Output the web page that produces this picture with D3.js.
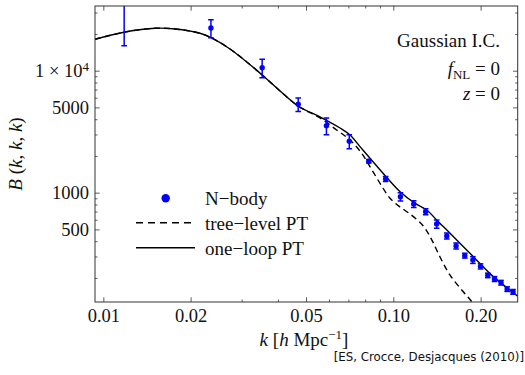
<!DOCTYPE html>
<html>
<head>
<meta charset="utf-8">
<script src="https://cdn.jsdelivr.net/npm/d3@7"></script>
<style>
  html, body { margin: 0; padding: 0; background: #fff; }
  svg { display: block; }
  text { font-family: "Liberation Serif", "Times New Roman", serif; fill: #111; }
</style>
</head>
<body>
<div id="root"></div>
<script>
"use strict";

// N-body measurements, B(k,k,k) with 1-sigma errors
const nbodyK = [0.0118, 0.0235, 0.0353, 0.0470, 0.0588, 0.0705, 0.0823, 0.0941, 0.1058, 0.1176, 0.1293,
  0.1411, 0.1529, 0.1646, 0.1764, 0.1881, 0.1999, 0.2117, 0.2234, 0.2352, 0.2469, 0.2587];
const nbodyB = [36000, 22390, 10580, 5300, 3540, 2640, 1810, 1295, 927, 808, 699,
  554, 442, 366, 305, 281, 249, 210, 196, 183, 162, 154];
const nbodyErr = [20000, 3800, 1820, 680, 550, 350, 60, 60, 72, 52, 40,
  43, 25, 20, 14, 18, 12, 9, 9, 8, 7, 7];

// one-loop PT curve
const oneLoopK = [0.00936, 0.01188, 0.01508, 0.01767, 0.02155, 0.02351, 0.02735, 0.03499, 0.04068, 0.04692,
  0.05588, 0.06549, 0.07091, 0.07679, 0.0831, 0.0944, 0.1055, 0.1188, 0.1304, 0.1429, 0.1569, 0.1888, 0.2213, 0.2685];
const oneLoopB = [18090, 20750, 22260, 21970, 20260, 18640, 15060, 9397, 6818, 5136,
  4173, 3391, 2972, 2383, 1914, 1352, 1019, 819, 721, 578, 465, 299, 205, 142];

// tree-level PT curve
const treeK = [0.00936, 0.01188, 0.01508, 0.01767, 0.02155, 0.02351, 0.02735, 0.03499, 0.04068, 0.04692,
  0.05588, 0.06379, 0.07091, 0.0778, 0.0831, 0.09, 0.0974, 0.1055, 0.1142, 0.1269, 0.1357, 0.1449,
  0.1569, 0.1743, 0.1864, 0.1991];
const treeB = [18090, 20750, 22260, 21970, 20260, 18640, 15060, 9397, 6818, 5136,
  4095, 3266, 2704, 2103, 1634, 1194, 900, 763, 669, 533, 410, 297,
  211, 154, 128, 105];

const xTicks = [0.01, 0.02, 0.05, 0.1, 0.2];
const xTickLabels = ["0.01", "0.02", "0.05", "0.10", "0.20"];
const xMinorTicks = [0.03, 0.04, 0.06, 0.07, 0.08, 0.09];
const yTicks = [500, 1000, 5000, 10000];
const yTickLabels = ["500", "1000", "5000", "1 × 10^4"];
const yMinorTicks = [200, 300, 400, 600, 700, 800, 900, 2000, 3000, 4000, 6000, 7000, 8000, 9000, 20000, 30000];

const legendLabels = ["N\u2212body", "tree\u2212level PT", "one\u2212loop PT"];

const width = 525;
const height = 375;
const plot = { left: 95, right: 517.7, top: 6, bottom: 302 };
const blue = "#0000ff";
const frameColor = "#333";

const x = d3.scaleLog().domain([0.00936, 0.2685]).range([plot.left, plot.right]);
const y = d3.scaleLog().domain([127, 33900]).range([plot.bottom, plot.top]);

const svg = d3.select("#root")
  .append("svg")
  .attr("width", width)
  .attr("height", height);

svg.append("defs")
  .append("clipPath")
  .attr("id", "clip")
  .append("rect")
  .attr("x", plot.left)
  .attr("y", plot.top)
  .attr("width", plot.right - plot.left)
  .attr("height", plot.bottom - plot.top);

// axes: major + minor ticks, pointing inward on all four sides
function styleAxis(g) {
  g.select(".domain").remove();
  g.selectAll(".tick line").attr("stroke", frameColor).attr("stroke-width", 0.8);
  g.selectAll(".tick text").attr("fill", "#111").style("font-size", "18.5px")
    .style("font-family", "'Liberation Serif', serif");
}

const labelX = (d) => xTickLabels[xTicks.indexOf(d)];
const labelY = (d) => yTickLabels[yTicks.indexOf(d)];

svg.append("g")
  .attr("transform", `translate(0,${plot.bottom})`)
  .call(d3.axisBottom(x).tickValues(xTicks).tickFormat(labelX).tickSizeInner(-4.7).tickSizeOuter(0).tickPadding(7))
  .call(styleAxis);
svg.append("g")
  .attr("transform", `translate(0,${plot.bottom})`)
  .call(d3.axisBottom(x).tickValues(xMinorTicks).tickFormat("").tickSizeInner(-2.5).tickSizeOuter(0))
  .call(styleAxis);
svg.append("g")
  .attr("transform", `translate(0,${plot.top})`)
  .call(d3.axisTop(x).tickValues(xTicks).tickFormat("").tickSizeInner(-4.7).tickSizeOuter(0))
  .call(styleAxis);
svg.append("g")
  .attr("transform", `translate(0,${plot.top})`)
  .call(d3.axisTop(x).tickValues(xMinorTicks).tickFormat("").tickSizeInner(-2.5).tickSizeOuter(0))
  .call(styleAxis);

const yAxis = svg.append("g")
  .attr("transform", `translate(${plot.left},0)`)
  .call(d3.axisLeft(y).tickValues(yTicks).tickFormat(labelY).tickSizeInner(-4.7).tickSizeOuter(0).tickPadding(6))
  .call(styleAxis);
svg.append("g")
  .attr("transform", `translate(${plot.left},0)`)
  .call(d3.axisLeft(y).tickValues(yMinorTicks).tickFormat("").tickSizeInner(-2.5).tickSizeOuter(0))
  .call(styleAxis);
svg.append("g")
  .attr("transform", `translate(${plot.right},0)`)
  .call(d3.axisRight(y).tickValues(yTicks).tickFormat("").tickSizeInner(-4.7).tickSizeOuter(0))
  .call(styleAxis);
svg.append("g")
  .attr("transform", `translate(${plot.right},0)`)
  .call(d3.axisRight(y).tickValues(yMinorTicks).tickFormat("").tickSizeInner(-2.5).tickSizeOuter(0))
  .call(styleAxis);

// turn "1 × 10^4" into a real superscript
yAxis.selectAll(".tick text")
  .filter(function () { return this.textContent.includes("^"); })
  .each(function () {
    const [base, exp] = this.textContent.split("^");
    const t = d3.select(this).text("");
    t.append("tspan").text(base);
    t.append("tspan").attr("dy", "-0.45em").style("font-size", "13px").text(exp);
  });

// curves
const line = d3.line()
  .x((d) => x(d[0]))
  .y((d) => y(d[1]))
  .curve(d3.curveCatmullRom.alpha(0.5));

const plotArea = svg.append("g").attr("clip-path", "url(#clip)");

plotArea.append("path")
  .datum(treeK.map((k, i) => [k, treeB[i]]))
  .attr("d", line)
  .attr("fill", "none")
  .attr("stroke", "#000")
  .attr("stroke-width", 1.4)
  .attr("stroke-dasharray", "6,4");

plotArea.append("path")
  .datum(oneLoopK.map((k, i) => [k, oneLoopB[i]]))
  .attr("d", line)
  .attr("fill", "none")
  .attr("stroke", "#000")
  .attr("stroke-width", 1.4);

// N-body points with error bars
const nbody = nbodyK.map((k, i) => ({ k, b: nbodyB[i], e: nbodyErr[i] }));
const cap = 2.8;

const pts = plotArea.selectAll(".nbody")
  .data(nbody)
  .enter()
  .append("g")
  .attr("class", "nbody");

pts.append("line")
  .attr("x1", (d) => x(d.k)).attr("x2", (d) => x(d.k))
  .attr("y1", (d) => y(d.b + d.e)).attr("y2", (d) => y(Math.max(d.b - d.e, 1)))
  .attr("stroke", blue).attr("stroke-width", 1.5);
pts.append("line")
  .attr("x1", (d) => x(d.k) - cap).attr("x2", (d) => x(d.k) + cap)
  .attr("y1", (d) => y(d.b + d.e)).attr("y2", (d) => y(d.b + d.e))
  .attr("stroke", blue).attr("stroke-width", 1.5);
pts.append("line")
  .attr("x1", (d) => x(d.k) - cap).attr("x2", (d) => x(d.k) + cap)
  .attr("y1", (d) => y(d.b - d.e)).attr("y2", (d) => y(d.b - d.e))
  .attr("stroke", blue).attr("stroke-width", 1.5);
pts.append("circle")
  .attr("cx", (d) => x(d.k))
  .attr("cy", (d) => y(d.b))
  .attr("r", 2.7)
  .attr("fill", blue);

// frame
svg.append("rect")
  .attr("x", plot.left)
  .attr("y", plot.top)
  .attr("width", plot.right - plot.left)
  .attr("height", plot.bottom - plot.top)
  .attr("fill", "none")
  .attr("stroke", frameColor)
  .attr("stroke-width", 1);

// legend
const legend = svg.append("g").style("font-size", "19px");
legend.append("circle").attr("cx", 165.7).attr("cy", 198.3).attr("r", 4.2).attr("fill", blue);
legend.append("line").attr("x1", 136).attr("x2", 195).attr("y1", 222.7).attr("y2", 222.7)
  .attr("stroke", "#000").attr("stroke-width", 1.4).attr("stroke-dasharray", "7,5");
legend.append("line").attr("x1", 136).attr("x2", 195).attr("y1", 247.7).attr("y2", 247.7)
  .attr("stroke", "#000").attr("stroke-width", 1.4);
legend.selectAll(".lbl")
  .data(legendLabels)
  .enter()
  .append("text")
  .attr("class", "lbl")
  .attr("x", 205)
  .attr("y", (d, i) => 205 + i * 25)
  .text((d) => d);

// annotation, top right
const note = svg.append("g").style("font-size", "19px").attr("text-anchor", "end");
note.append("text").attr("x", 500).attr("y", 47).text("Gaussian I.C.");
const fnl = note.append("text").attr("x", 500).attr("y", 75);
fnl.append("tspan").style("font-style", "italic").text("f");
fnl.append("tspan").attr("dy", 4).style("font-size", "13px").text("NL");
fnl.append("tspan").attr("dy", -4).text(" = 0");
const zt = note.append("text").attr("x", 500).attr("y", 100);
zt.append("tspan").style("font-style", "italic").text("z");
zt.append("tspan").text(" = 0");

// axis titles
const yTitle = svg.append("text")
  .attr("transform", `translate(22,${(plot.top + plot.bottom) / 2}) rotate(-90)`)
  .attr("text-anchor", "middle")
  .style("font-size", "19px");
[["B", true], [" (", false], ["k", true], [", ", false], ["k", true], [", ", false], ["k", true], [")", false]]
  .forEach(([s, it]) => yTitle.append("tspan").style("font-style", it ? "italic" : "normal").text(s));

const xTitle = svg.append("text")
  .attr("x", 304)
  .attr("y", 346)
  .attr("text-anchor", "middle")
  .style("font-size", "19px");
xTitle.append("tspan").style("font-style", "italic").text("k");
xTitle.append("tspan").text(" [");
xTitle.append("tspan").style("font-style", "italic").text("h");
xTitle.append("tspan").text(" Mpc");
xTitle.append("tspan").attr("dy", -7).style("font-size", "13px").text("\u22121");
xTitle.append("tspan").attr("dy", 7).text("]");

svg.append("text")
  .attr("x", 524)
  .attr("y", 361)
  .attr("text-anchor", "end")
  .style("font-family", "'DejaVu Sans', sans-serif")
  .style("font-size", "11.8px")
  .text("[ES, Crocce, Desjacques (2010)]");
</script>
</body>
</html>
